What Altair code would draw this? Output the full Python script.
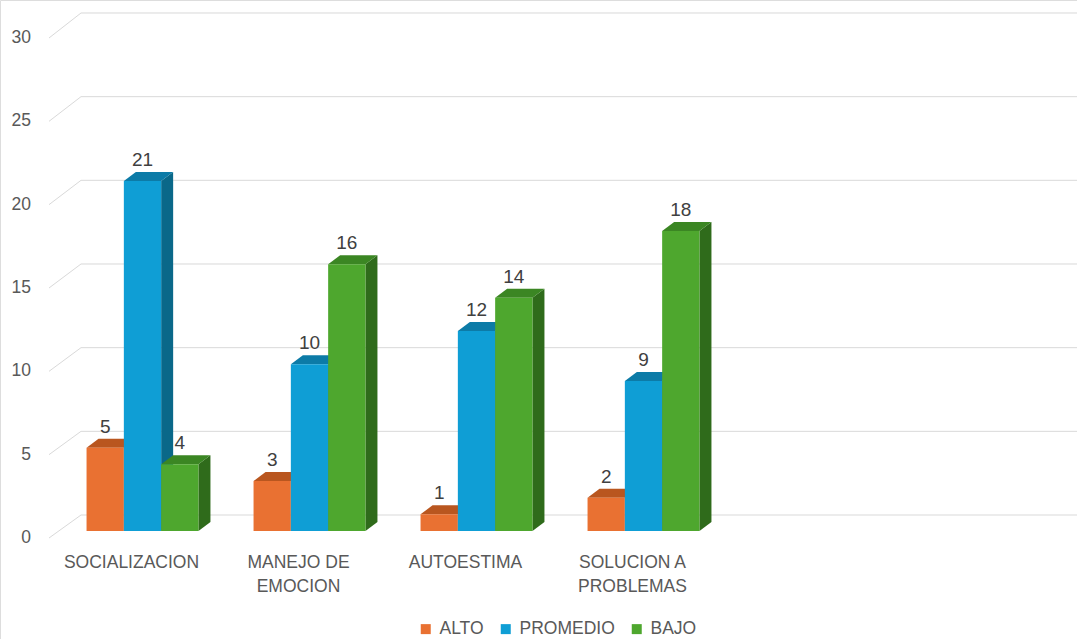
import altair as alt
import pandas as pd

# ---- data ----
categories = ["SOCIALIZACION", "MANEJO DE\nEMOCION", "AUTOESTIMA", "SOLUCION A\nPROBLEMAS"]
series = ["ALTO", "PROMEDIO", "BAJO"]
alto = [5, 3, 1, 2]
promedio = [21, 10, 12, 9]
bajo = [4, 16, 14, 18]
y_ticks = [0, 5, 10, 15, 20, 25, 30]

colors_front = ["#E97132", "#0F9ED5", "#4EA72E"]
colors_top = ["#B9561F", "#0C7BA7", "#3B8623"]
colors_side = ["#A04A1A", "#0A6889", "#2F6B1B"]

FONT = "Liberation Sans"

# ---- geometry (pixel layout of the pseudo-3D scene) ----
W, H = 1077, 639
X0PX, BAND = 59.0, 167.0      # category origin and band width on bar plane
Y0PX, KY = 531.0, 16.667      # zero line and px per unit on bar plane
xdom = [-X0PX / BAND, (W - X0PX) / BAND]
ydom = [(Y0PX - H) / KY, Y0PX / KY]
BW = 37.3 / BAND
DX, DY = 12 / BAND, 9 / KY
FX, FY = -10 / BAND, -7 / KY
BX, BY, BSCALE = 22 / BAND, 16 / KY, 1.004

xs = alt.Scale(domain=xdom, nice=False, zero=False)
ys = alt.Scale(domain=ydom, nice=False, zero=False)

values = [alto, promedio, bajo]
bars, sides, tops = [], [], []
for i, cat in enumerate(categories):
    c = i + 0.5
    for j, s in enumerate(series):
        v = values[j][i]
        x0 = c + (j - 1.5) * BW
        x1 = x0 + BW
        bid = f"b{i}{j}"
        bars.append(dict(cat=cat, serie=s, v=v, x0=x0, x1=x1, xc=(x0 + x1) / 2, zero=0))
        sides.append(dict(id=bid, x=x1, yt=v, yb=0, col=colors_side[j]))
        sides.append(dict(id=bid, x=x1 + DX, yt=v + DY, yb=DY, col=colors_side[j]))
        tops.append(dict(id=bid, y=v, xa=x0, xb=x1, col=colors_top[j]))
        tops.append(dict(id=bid, y=v + DY, xa=x0 + DX, xb=x1 + DX, col=colors_top[j]))
bars = pd.DataFrame(bars)
sides = pd.DataFrame(sides)
tops = pd.DataFrame(tops)

grid = pd.DataFrame(dict(
    t=y_ticks,
    fx=[FX] * len(y_ticks),
    fy=[t + FY for t in y_ticks],
    bx=[BX] * len(y_ticks),
    by=[BY + t * BSCALE for t in y_ticks],
    xe=[xdom[1]] * len(y_ticks),
    lab=[str(t) for t in y_ticks],
))

cats = pd.DataFrame(dict(cat=categories, x=[i + 0.5 - 11 / BAND for i in range(len(categories))],
                         y=[-1.40] * len(categories)))

gridcol = "#D9D9D9"
slant = alt.Chart(grid).mark_rule(color=gridcol, strokeWidth=1).encode(
    x=alt.X("fx:Q", scale=xs, axis=None), y=alt.Y("fy:Q", scale=ys, axis=None),
    x2="bx:Q", y2="by:Q")
back = alt.Chart(grid).mark_rule(color=gridcol, strokeWidth=1).encode(
    x=alt.X("bx:Q", scale=xs, axis=None), x2="xe:Q", y=alt.Y("by:Q", scale=ys, axis=None))
ylabels = alt.Chart(grid).mark_text(align="right", baseline="middle", dx=-18, fontSize=17.5,
                                    color="#595959", font=FONT).encode(
    x=alt.X("fx:Q", scale=xs, axis=None), y=alt.Y("fy:Q", scale=ys, axis=None), text="lab:N")

side_l = alt.Chart(sides).mark_area(strokeWidth=0, opacity=1).encode(
    x=alt.X("x:Q", scale=xs, axis=None),
    y=alt.Y("yt:Q", scale=ys, axis=None, stack=None), y2="yb:Q",
    detail="id:N", fill=alt.Fill("col:N", scale=None))
top_l = alt.Chart(tops).mark_area(orient="horizontal", strokeWidth=0, opacity=1).encode(
    y=alt.Y("y:Q", scale=ys, axis=None),
    x=alt.X("xa:Q", scale=xs, axis=None, stack=None), x2="xb:Q",
    detail="id:N", fill=alt.Fill("col:N", scale=None))
front_l = alt.Chart(bars).mark_bar(strokeWidth=0).encode(
    x=alt.X("x0:Q", scale=xs, axis=None), x2="x1:Q",
    y=alt.Y("v:Q", scale=ys, axis=None), y2="zero:Q",
    color=alt.Color("serie:N", scale=alt.Scale(domain=series, range=colors_front),
                    legend=alt.Legend(title=None, orient="none", legendX=417, legendY=620,
                                      direction="horizontal", symbolType="square",
                                      symbolSize=100, symbolStrokeWidth=0, labelFontSize=17.5,
                                      labelColor="#595959", labelFont=FONT, columnPadding=13,
                                      labelOffset=5, padding=0)))
vlabels = alt.Chart(bars).mark_text(baseline="middle", dy=-21, fontSize=19, color="#404040",
                                    font=FONT).encode(
    x=alt.X("xc:Q", scale=xs, axis=None), y=alt.Y("v:Q", scale=ys, axis=None), text="v:Q")
clabels = alt.Chart(cats).mark_text(baseline="top", align="center", fontSize=17.5, lineHeight=24,
                                    lineBreak="\n", color="#595959", font=FONT).encode(
    x=alt.X("x:Q", scale=xs, axis=None), y=alt.Y("y:Q", scale=ys, axis=None), text="cat:N")

chart = alt.layer(slant, back, ylabels, side_l, top_l, front_l, vlabels, clabels).resolve_scale(
    color="independent", fill="independent"
).properties(
    width=W, height=H, autosize=alt.AutoSizeParams(type="none"), padding=0
).configure_view(stroke=None).configure(background="white")

chart.save("out.html", embed_options={"renderer": "svg", "actions": False})
